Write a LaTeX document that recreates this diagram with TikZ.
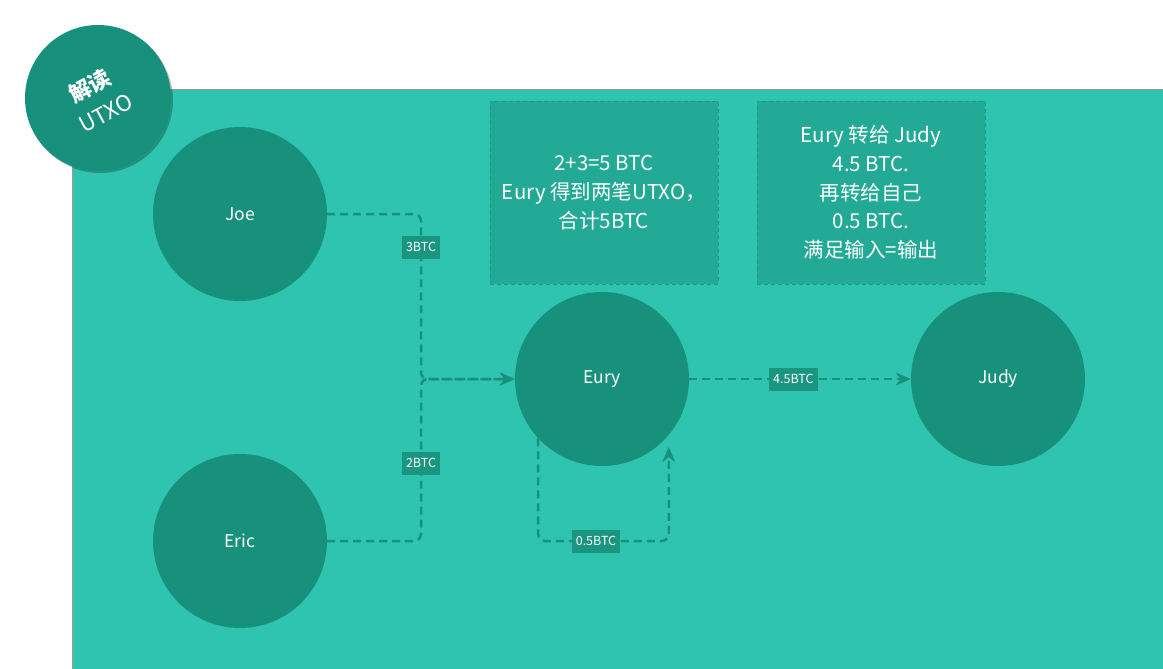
\documentclass[tikz,border=0pt]{standalone}
\usepackage{fontspec}
\setmainfont{Noto Sans CJK SC}
\usetikzlibrary{arrows.meta, shadows}
\definecolor{bgteal}{HTML}{2EC4B0}
\definecolor{nodeteal}{HTML}{18917C}
\definecolor{boxteal}{HTML}{22AA97}
\definecolor{boxline}{HTML}{1C9C88}
\definecolor{labelteal}{HTML}{1A9580}
\tikzset{
  person/.style={
    circle,
    fill=nodeteal,
    minimum size=174pt,
    inner sep=0pt,
    text=white,
    font=\fontsize{17.5}{20}\selectfont
  },
  note box/.style={
    draw=boxline,
    dash pattern=on 4pt off 3pt,
    line width=0.8pt,
    fill=boxteal,
    minimum width=228pt,
    minimum height=183pt,
    text=white,
    align=center,
    font=\fontsize{20.5}{28.7}\selectfont
  },
  flow/.style={
    -{Stealth[length=15pt, width=13pt]},
    draw=nodeteal,
    line width=2.5pt,
    dash pattern=on 8pt off 5pt,
    rounded corners=7pt
  },
  amount/.style={
    sharp corners,
    fill=labelteal,
    text=white,
    font=\fontsize{12.5}{14}\selectfont,
    inner xsep=4pt,
    minimum height=23pt
  },
  badge text/.style={
    rotate=28,
    inner sep=0pt,
    text=white,
    font=\fontsize{22}{26}\selectfont
  }
}
\begin{document}
\begin{tikzpicture}[x=1pt, y=-1pt]
    % 画布大小：与像素一一对应
    \useasboundingbox (0,0) rectangle (1163,669);

    % 背景面板
    \filldraw[fill=bgteal, draw=gray!80, line width=0.8pt] (72,89) rectangle (1164,670);

    % 角标
    \node[circle, fill=nodeteal, minimum size=146pt, inner sep=0pt,
      drop shadow={shadow xshift=2pt, shadow yshift=-2pt, opacity=0.25, fill=black}]
      (badge) at (98,98) {};
    \node[badge text] (badgetop) at (90,86) {\textbf{解读}};
    \node[badge text] (badgeutxo) at (106,113) {UTXO};

    % 说明框
    \node[note box] (sumnote) at (604,192.5) {2+3=5 BTC\\Eury 得到两笔UTXO，\\合计5BTC};
    \node[note box] (paynote) at (871,192.5) {Eury 转给 Judy\\4.5 BTC.\\再转给自己\\0.5 BTC.\\满足输入=输出};

    % 参与者
    \node[person] (joe) at (240,214) {Joe};
    \node[person] (eric) at (240,541) {Eric};
    \node[person] (eury) at (602,379) {Eury};
    \node[person] (judy) at (998,379) {Judy};

    % 转账路径
    \coordinate (merge) at (421,379);
    \coordinate (loop) at (596,541);
    \draw[flow] (joe.east) -| node[amount, pos=0.6] (amt3) {3BTC} (merge) -- (eury.west);
    \draw[flow] (eric.east) -| node[amount, pos=0.74] (amt2) {2BTC} (merge) -- (eury.west);
    \draw[flow] (eury.east) -- node[amount, pos=0.47] (amt45) {4.5BTC} (judy.west);
    \draw[flow, shorten >=12pt] (eury.223) |- (loop) node[amount] (amt05) {0.5BTC} -| (eury.320);
  \end{tikzpicture}
\end{document}
